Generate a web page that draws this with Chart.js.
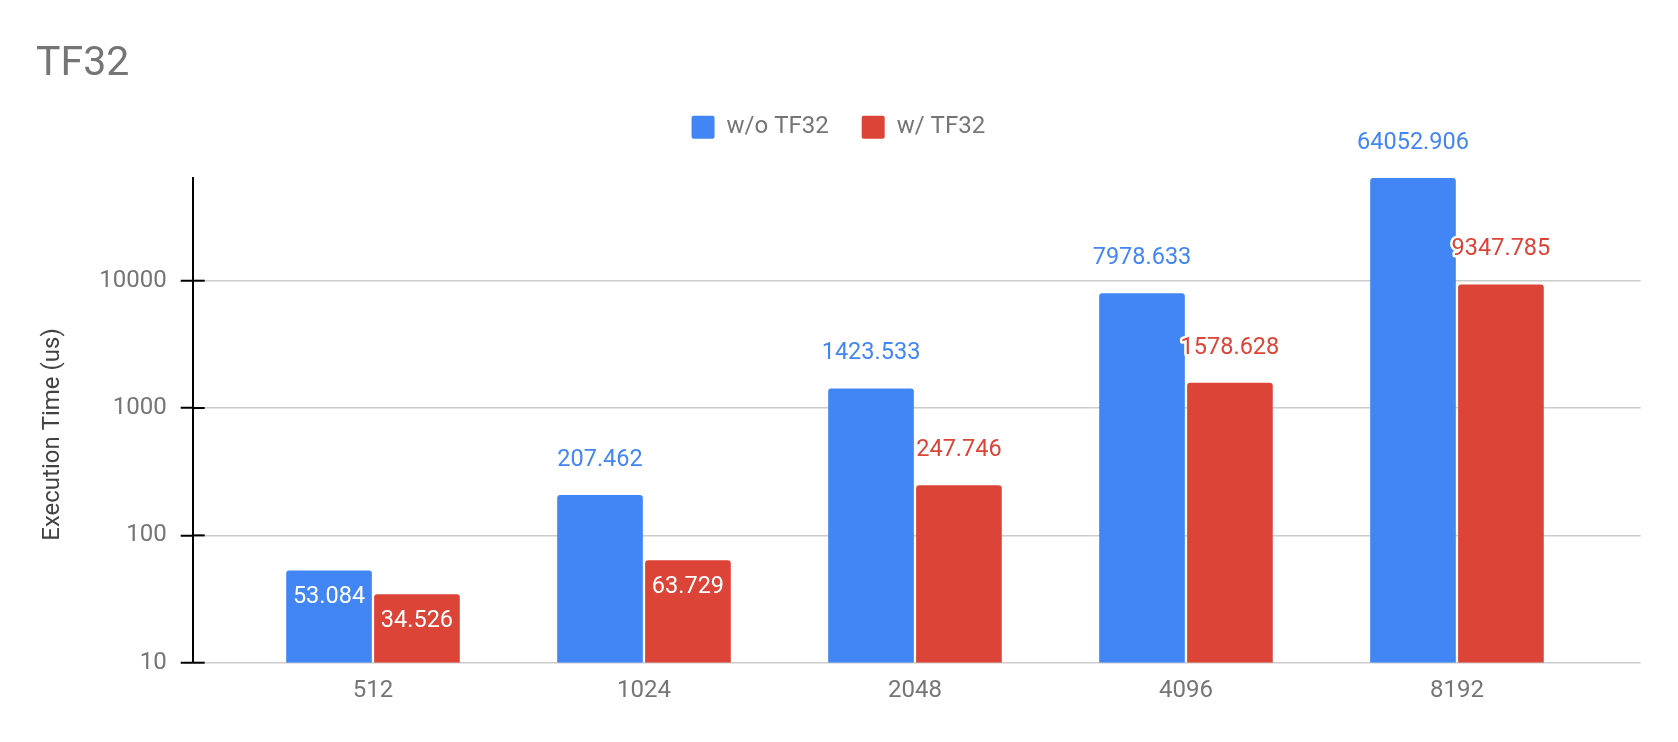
<!DOCTYPE html>
<html>
<head>
<meta charset="utf-8">
<script src="https://cdn.jsdelivr.net/npm/chart.js@4.4.1/dist/chart.umd.min.js"></script>
<style>
  html, body { margin: 0; padding: 0; background: #ffffff; }
  #wrap { width: 1678px; height: 742px; position: relative; }
</style>
</head>
<body>
<div id="wrap"><canvas id="c"></canvas></div>
<script>
// ---- data ----
const categories = ['512', '1024', '2048', '4096', '8192'];
const seriesNames = ['w/o TF32', 'w/ TF32'];
const withoutTF32 = [53.084, 207.462, 1423.533, 7978.633, 64052.906];
const withTF32 = [34.526, 63.729, 247.746, 1578.628, 9347.785];
const yTickValues = [10, 100, 1000, 10000];
const chartTitle = 'TF32';
const yAxisTitle = 'Execution Time (us)';

const BLUE = '#4285F4';
const RED = '#DB4437';
const GREY = '#757575';
const FONT = 'Roboto';

const yMin = 10;
const yMax = Math.max(...withoutTF32, ...withTF32);

// spacer box between legend and plot area
const legendGap = {
  id: 'legendGap',
  beforeInit(chart) {
    const box = {
      position: 'top', weight: 500, fullSize: true, options: {},
      top: 0, left: 0, right: 0, bottom: 0, width: 0, height: 0,
      isHorizontal() { return true; },
      update(maxWidth) { this.width = maxWidth; this.height = 28.8; return this.height; },
      getPadding() { return { top: 0, left: 0, right: 0, bottom: 0 }; },
      draw() {}
    };
    if (Chart.layouts && Chart.layouts.addBox) {
      Chart.layouts.addBox(chart, box);
    } else {
      box._layers = () => [{ z: 0, draw() {} }];
      chart.boxes = chart.boxes || [];
      chart.boxes.push(box);
    }
  }
};

// black inner part of the y-axis tick marks + y-axis title
const axisExtras = {
  id: 'axisExtras',
  afterDraw(chart) {
    const { ctx, chartArea, scales } = chart;
    const y = scales.y;
    ctx.save();
    ctx.strokeStyle = '#000';
    ctx.lineWidth = 2;
    y.ticks.forEach(t => {
      const py = y.getPixelForValue(t.value);
      ctx.beginPath();
      ctx.moveTo(chartArea.left, py);
      ctx.lineTo(chartArea.left + 12, py);
      ctx.stroke();
    });
    ctx.translate(53.4, 434.5);
    ctx.rotate(-Math.PI / 2);
    ctx.font = '24px ' + FONT;
    ctx.fillStyle = '#424242';
    ctx.textAlign = 'center';
    ctx.textBaseline = 'middle';
    ctx.fillText(yAxisTitle, 0, 0);
    ctx.restore();
  }
};

// value labels
const insideBelow = 100;
const valueLabels = {
  id: 'valueLabels',
  afterDatasetsDraw(chart) {
    const ctx = chart.ctx;
    ctx.save();
    ctx.font = '23.5px ' + FONT;
    ctx.textAlign = 'center';
    ctx.textBaseline = 'middle';
    ctx.lineJoin = 'round';
    chart.data.datasets.forEach((ds, di) => {
      const meta = chart.getDatasetMeta(di);
      meta.data.forEach((bar, i) => {
        const v = ds.data[i].y;
        const txt = v.toFixed(3);
        if (v < insideBelow) {
          ctx.fillStyle = '#ffffff';
          ctx.fillText(txt, bar.x, bar.y + 26.5);
        } else {
          ctx.strokeStyle = '#ffffff';
          ctx.lineWidth = 5;
          ctx.strokeText(txt, bar.x, bar.y - 35);
          ctx.fillStyle = ds.backgroundColor;
          ctx.fillText(txt, bar.x, bar.y - 35);
        }
      });
    });
    ctx.restore();
  }
};

const toPoints = arr => arr.map((v, i) => ({ x: i, y: v }));
const barRadius = { topLeft: 3, topRight: 3, bottomLeft: 0, bottomRight: 0 };

new Chart(document.getElementById('c'), {
  type: 'bar',
  data: {
    datasets: [
      { label: seriesNames[0], data: toPoints(withoutTF32), backgroundColor: BLUE, borderWidth: 0, borderRadius: barRadius, borderSkipped: false },
      { label: seriesNames[1], data: toPoints(withTF32), backgroundColor: RED, borderWidth: 0, borderRadius: barRadius, borderSkipped: false }
    ]
  },
  plugins: [legendGap, axisExtras, valueLabels],
  options: {
    responsive: true,
    maintainAspectRatio: false,
    animation: false,
    events: [],
    categoryPercentage: 0.649,
    barPercentage: 0.974,
    layout: { padding: { left: 36, right: 37.3, top: 0, bottom: 0 } },
    plugins: {
      tooltip: { enabled: false },
      title: {
        display: true, text: chartTitle, align: 'start', color: GREY,
        font: { family: FONT, size: 41, weight: 'normal', lineHeight: 0.8 },
        padding: { top: 48.1, bottom: 1.3 }
      },
      legend: {
        display: true, position: 'top', align: 'center',
        labels: {
          boxWidth: 23, boxHeight: 23, padding: 33, color: GREY,
          useBorderRadius: true, borderRadius: 2,
          font: { family: FONT, size: 24 }
        }
      }
    },
    scales: {
      x: {
        type: 'linear',
        offset: false,
        min: -0.6653,
        max: 4.678,
        grid: { display: false, drawTicks: false },
        border: { display: false },
        afterBuildTicks: s => { s.ticks = categories.map((c, i) => ({ value: i })); },
        afterFit: s => { s.height = 79.3; },
        ticks: {
          autoSkip: false, maxRotation: 0, padding: 14, color: GREY,
          font: { family: FONT, size: 24 },
          callback: v => categories[v]
        }
      },
      y: {
        type: 'logarithmic',
        min: yMin,
        max: yMax,
        afterBuildTicks: s => { s.ticks = yTickValues.map(v => ({ value: v })); },
        afterFit: s => { s.width = 156.7; },
        grid: { color: '#cccccc', lineWidth: 1.5, tickLength: 12, tickColor: '#000000', tickWidth: 2 },
        border: { display: true, color: '#000000', width: 2 },
        ticks: {
          padding: 14, color: GREY,
          font: { family: FONT, size: 24 },
          callback: v => String(v)
        },
        title: { display: false }
      }
    }
  }
});
</script>
</body>
</html>
